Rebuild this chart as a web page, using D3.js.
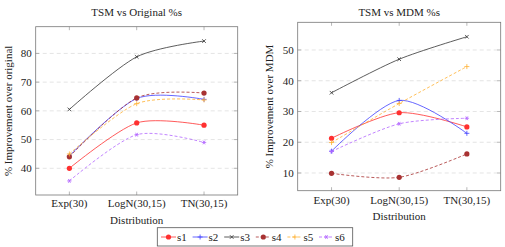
<!DOCTYPE html>
<html>
<head>
<meta charset="utf-8">
<script src="https://cdn.jsdelivr.net/npm/d3@7"></script>
<style>
  body { margin: 0; background: #fff; }
  svg { display: block; }
  svg text { font-family: "Liberation Serif", "Times New Roman", Tinos, "Nimbus Roman", "Noto Serif", "DejaVu Serif", FreeSerif, serif !important; }
</style>
</head>
<body>
<svg id="chart" width="505" height="247"></svg>
<script>
// categories and values
const categories = ['Exp(30)', 'LogN(30,15)', 'TN(30,15)'];
const seriesNames = ['s1', 's2', 's3', 's4', 's5', 's6'];

// left panel: TSM vs Original
const origS1 = [40.0, 55.8, 55.0];
const origS2 = [44.3, 64.3, 64.0];
const origS3 = [60.5, 78.8, 84.3];
const origS4 = [44.0, 64.5, 66.2];
const origS5 = [45.0, 62.5, 63.8];
const origS6 = [35.6, 51.7, 49.0];
const origTicks = [40, 50, 60, 70, 80];

// right panel: TSM vs MDM
const mdmS1 = [21.3, 29.6, 25.0];
const mdmS2 = [17.1, 33.6, 22.9];
const mdmS3 = [36.1, 47.0, 54.3];
const mdmS4 = [9.9, 8.6, 16.2];
const mdmS5 = [19.9, 32.6, 44.6];
const mdmS6 = [17.0, 26.0, 27.8];
const mdmTicks = [10, 20, 30, 40, 50];

const styles = {
  s1: { color: '#ff3030', dash: null, marker: 'dot' },
  s2: { color: '#4040ff', dash: null, marker: 'plus' },
  s3: { color: '#333333', dash: null, marker: 'cross' },
  s4: { color: '#a83232', dash: '3,2', marker: 'dot' },
  s5: { color: '#ffb030', dash: '3,2', marker: 'plus' },
  s6: { color: '#b266ff', dash: '3,2', marker: 'star' }
};

const svg = d3.select('#chart');
const textColor = '#222';
const fontSize = 11;

function drawMarker(g, type, x, y, color) {
  if (type === 'dot') {
    g.append('circle').attr('cx', x).attr('cy', y).attr('r', 2.6).attr('fill', color);
  } else if (type === 'plus') {
    g.append('path').attr('d', `M${x - 2.5},${y}h5M${x},${y - 2.5}v5`)
      .attr('stroke', color).attr('stroke-width', 0.8);
  } else if (type === 'cross') {
    g.append('path').attr('d', `M${x - 1.8},${y - 1.8}l3.6,3.6M${x - 1.8},${y + 1.8}l3.6,-3.6`)
      .attr('stroke', color).attr('stroke-width', 0.8);
  } else if (type === 'star') {
    g.append('path').attr('d', `M${x - 2.2},${y}h4.4M${x - 1.1},${y - 1.9}l2.2,3.8M${x - 1.1},${y + 1.9}l2.2,-3.8`)
      .attr('stroke', color).attr('stroke-width', 0.8);
  }
}

function drawPanel(opts) {
  const { left, right, top, bottom, yDomain, ticks, series, title, ylabel, tickY, xlabelY } = opts;
  const g = svg.append('g');

  const x = d3.scalePoint().domain(categories).range([left, right]).padding(0.5);
  const y = d3.scaleLinear().domain(yDomain).range([bottom, top]);

  // grid
  g.append('g').selectAll('line').data(ticks).join('line')
    .attr('x1', left).attr('x2', right)
    .attr('y1', d => y(d)).attr('y2', d => y(d))
    .attr('stroke', '#d8d8d8').attr('stroke-width', 0.7).attr('stroke-dasharray', '4,3');

  // tick marks on all sides
  const tk = g.append('g').attr('stroke', '#888').attr('stroke-width', 0.6);
  categories.forEach(c => {
    tk.append('line').attr('x1', x(c)).attr('x2', x(c)).attr('y1', bottom).attr('y2', bottom - 3.5);
    tk.append('line').attr('x1', x(c)).attr('x2', x(c)).attr('y1', top).attr('y2', top + 3.5);
  });
  ticks.forEach(t => {
    tk.append('line').attr('x1', left).attr('x2', left + 3.5).attr('y1', y(t)).attr('y2', y(t));
    tk.append('line').attr('x1', right).attr('x2', right - 3.5).attr('y1', y(t)).attr('y2', y(t));
  });

  // lines
  const line = d3.line()
    .x((d, i) => x(categories[i]))
    .y(d => y(d))
    .curve(d3.curveCardinal.tension(0.15));

  seriesNames.forEach((name, si) => {
    const st = styles[name];
    const vals = series[si];
    g.append('path').datum(vals)
      .attr('d', line)
      .attr('fill', 'none')
      .attr('stroke', st.color)
      .attr('stroke-width', 0.8)
      .attr('stroke-dasharray', st.dash);
    vals.forEach((v, i) => drawMarker(g, st.marker, x(categories[i]), y(v), st.color));
  });

  // frame
  g.append('rect').attr('x', left).attr('y', top)
    .attr('width', right - left).attr('height', bottom - top)
    .attr('fill', 'none').attr('stroke', '#777').attr('stroke-width', 0.8);

  // tick labels
  g.append('g').selectAll('text').data(categories).join('text')
    .attr('x', d => x(d)).attr('y', tickY)
    .attr('text-anchor', 'middle').attr('font-size', fontSize).attr('fill', textColor)
    .text(d => d);
  g.append('g').selectAll('text').data(ticks).join('text')
    .attr('x', left - 4).attr('y', d => y(d)).attr('dy', '0.35em')
    .attr('text-anchor', 'end').attr('font-size', fontSize).attr('fill', textColor)
    .text(d => d);

  // titles
  const cx = (left + right) / 2;
  g.append('text').attr('x', cx).attr('y', 16).attr('fill', textColor)
    .attr('text-anchor', 'middle').attr('font-size', fontSize).text(title);
  g.append('text').attr('x', cx).attr('y', xlabelY).attr('fill', textColor)
    .attr('text-anchor', 'middle').attr('font-size', fontSize).text('Distribution');
  g.append('text').attr('fill', textColor)
    .attr('transform', `translate(${opts.ylabelX},${(top + bottom) / 2}) rotate(-90)`)
    .attr('text-anchor', 'middle').attr('font-size', fontSize).text(ylabel);
}

drawPanel({
  left: 35.7, right: 237.7, top: 26.7, bottom: 195,
  yDomain: [30.7, 89.3], ticks: origTicks,
  series: [origS1, origS2, origS3, origS4, origS5, origS6],
  title: 'TSM vs Original %s', ylabel: '% Improvement over original',
  tickY: 207, xlabelY: 224, ylabelX: 12
});

drawPanel({
  left: 297.7, right: 500.7, top: 22.3, bottom: 190.7,
  yDomain: [4.25, 59], ticks: mdmTicks,
  series: [mdmS1, mdmS2, mdmS3, mdmS4, mdmS5, mdmS6],
  title: 'TSM vs MDM %s', ylabel: '% Improvement over MDM',
  tickY: 204, xlabelY: 220, ylabelX: 273
});

// legend
const legend = svg.append('g');
legend.append('rect').attr('x', 157.3).attr('y', 227.7).attr('width', 195.4).attr('height', 18.3)
  .attr('fill', '#fff').attr('stroke', '#555').attr('stroke-width', 0.8);
const legX = d3.scalePoint().domain(seriesNames).range([161, 319]);
seriesNames.forEach(name => {
  const st = styles[name];
  const lx = legX(name);
  const ly = 237;
  legend.append('line').attr('x1', lx).attr('x2', lx + 15).attr('y1', ly).attr('y2', ly)
    .attr('stroke', st.color).attr('stroke-width', 0.8).attr('stroke-dasharray', st.dash);
  drawMarker(legend, st.marker, lx + 7.5, ly, st.color);
  legend.append('text').attr('x', lx + 16).attr('y', ly).attr('dy', '0.35em')
    .attr('font-size', fontSize).attr('fill', textColor).text(name);
});
</script>
</body>
</html>
